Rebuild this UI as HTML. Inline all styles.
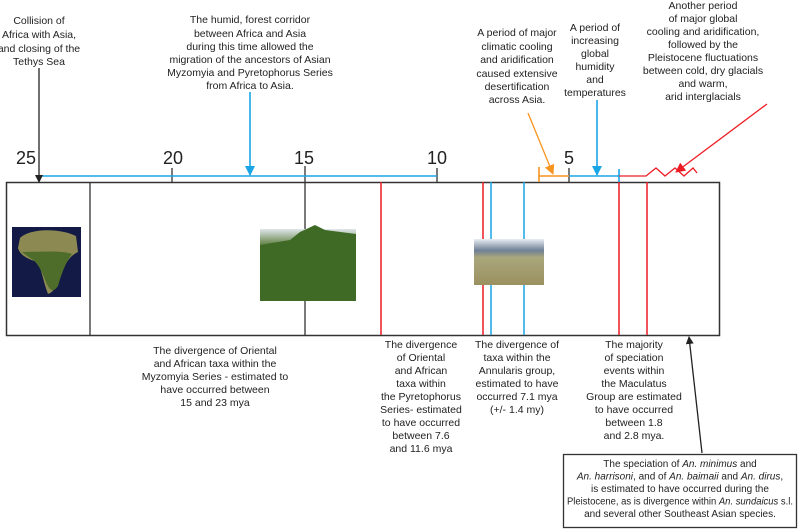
<!DOCTYPE html>
<html><head><meta charset="utf-8"><style>
body{margin:0;background:#fff}
svg{display:block;font-family:"Liberation Sans",sans-serif}
text{font-size:10.5px;fill:#222;text-anchor:middle}
.n{font-size:18px}
.b{font-size:10px}
</style></head><body>
<svg width="800" height="529" viewBox="0 0 800 529">
<defs>
<marker id="ak" markerWidth="8" markerHeight="8" refX="7" refY="4" orient="auto" markerUnits="userSpaceOnUse"><path d="M0,0 L8,4 L0,8 z" fill="#222"/></marker>
<marker id="ab" markerWidth="10" markerHeight="10" refX="9" refY="5" orient="auto" markerUnits="userSpaceOnUse"><path d="M0,0 L10,5 L0,10 z" fill="#1aa5e6"/></marker>
<marker id="ao" markerWidth="10" markerHeight="10" refX="9" refY="5" orient="auto" markerUnits="userSpaceOnUse"><path d="M0,0 L10,5 L0,10 z" fill="#f7941d"/></marker>
<marker id="ar" markerWidth="10" markerHeight="10" refX="9" refY="5" orient="auto" markerUnits="userSpaceOnUse"><path d="M0,0 L10,5 L0,10 z" fill="#ed1c24"/></marker>
<linearGradient id="gf" x1="0" y1="0" x2="0" y2="1"><stop offset="0" stop-color="#dfe6ea"/><stop offset="0.2" stop-color="#6d8a52"/><stop offset="0.5" stop-color="#3c6a22"/><stop offset="1" stop-color="#567d2a"/></linearGradient>
<linearGradient id="gg" x1="0" y1="0" x2="0" y2="1"><stop offset="0" stop-color="#e9eef3"/><stop offset="0.25" stop-color="#6f7f96"/><stop offset="0.4" stop-color="#a9a77c"/><stop offset="1" stop-color="#9b9060"/></linearGradient>
</defs>

<rect x="6.5" y="182.5" width="713" height="153" fill="none" stroke="#333" stroke-width="1.5"/>
<line x1="90" y1="182" x2="90" y2="336" stroke="#333" stroke-width="1.3"/>

<text class="n" x="26" y="164">25</text>
<text class="n" x="173" y="164">20</text>
<text class="n" x="304" y="164">15</text>
<text class="n" x="437" y="164">10</text>
<text class="n" x="569" y="164">5</text>
<g stroke="#333" stroke-width="1.3">
<line x1="172" y1="168" x2="172" y2="182"/>
<line x1="437" y1="168" x2="437" y2="182"/>
<line x1="569" y1="168" x2="569" y2="182"/>
<line x1="305" y1="166" x2="305" y2="229"/>
<line x1="305" y1="301" x2="305" y2="335"/>
</g>
<line x1="39" y1="176" x2="437" y2="176" stroke="#1aa5e6" stroke-width="1.6"/>
<line x1="539" y1="176" x2="569" y2="176" stroke="#f7941d" stroke-width="1.6"/>
<line x1="539" y1="167" x2="539" y2="182" stroke="#f7941d" stroke-width="1.6"/>
<line x1="569" y1="176" x2="619" y2="176" stroke="#1aa5e6" stroke-width="1.6"/>
<line x1="619" y1="169" x2="619" y2="182" stroke="#1aa5e6" stroke-width="1.6"/>
<polyline points="619,176 646,176 656,168 665,176 675,168 684,176 693,168 697,173" fill="none" stroke="#ed1c24" stroke-width="1.3"/>

<g stroke-width="1.5">
<line x1="381" y1="182" x2="381" y2="335" stroke="#ed1c24"/>
<line x1="483" y1="182" x2="483" y2="335" stroke="#ed1c24"/>
<line x1="491" y1="182" x2="491" y2="335" stroke="#1aa5e6"/>
<line x1="524" y1="182" x2="524" y2="335" stroke="#1aa5e6"/>
<line x1="619" y1="182" x2="619" y2="335" stroke="#ed1c24"/>
<line x1="647" y1="182" x2="647" y2="335" stroke="#ed1c24"/>
</g>

<rect x="12" y="227" width="69" height="70" fill="#121a45"/>
<path d="M20,238 C30,228 60,228 76,236 L78,252 C70,256 66,262 62,272 C58,282 55,292 48,294 C44,284 42,272 38,262 C30,260 20,256 18,248 Z" fill="#8c8a52"/>
<path d="M22,252 C40,252 62,250 72,254 C66,262 62,272 58,286 C54,292 50,292 46,282 C42,272 38,262 30,258 Z" fill="#4f6d2a"/>
<rect x="260" y="229" width="96" height="72" fill="url(#gf)"/>
<path d="M260,245 L290,240 L300,232 L315,225 L325,230 L356,234 L356,301 L260,301 Z" fill="#3f6a26"/>
<rect x="474" y="239" width="70" height="46" fill="url(#gg)"/>

<line x1="39" y1="68" x2="39" y2="182" stroke="#222" stroke-width="1.3" marker-end="url(#ak)"/>
<line x1="250" y1="92" x2="250" y2="175" stroke="#1aa5e6" stroke-width="1.6" marker-end="url(#ab)"/>
<line x1="528" y1="113" x2="553" y2="174" stroke="#f7941d" stroke-width="1.3" marker-end="url(#ao)"/>
<line x1="597" y1="100" x2="597" y2="175" stroke="#1aa5e6" stroke-width="1.6" marker-end="url(#ab)"/>
<line x1="767" y1="104" x2="676" y2="172" stroke="#ed1c24" stroke-width="1.3" marker-end="url(#ar)"/>
<line x1="702" y1="453" x2="689" y2="337" stroke="#222" stroke-width="1.3" marker-end="url(#ak)"/>

<text x="39" y="24">Collision of</text>
<text x="39" y="38">Africa with Asia,</text>
<text x="39" y="52">and closing of the</text>
<text x="39" y="65">Tethys Sea</text>

<text x="250" y="23">The humid, forest corridor</text>
<text x="250" y="37">between Africa and Asia</text>
<text x="250" y="50">during this time allowed the</text>
<text x="250" y="63">migration of the ancestors of Asian</text>
<text x="250" y="76">Myzomyia and Pyretophorus Series</text>
<text x="250" y="89">from Africa to Asia.</text>

<text x="517" y="36">A period of major</text>
<text x="517" y="50">climatic cooling</text>
<text x="517" y="63">and aridification</text>
<text x="517" y="77">caused extensive</text>
<text x="517" y="90">desertification</text>
<text x="517" y="103">across Asia.</text>

<text x="595" y="31">A period of</text>
<text x="595" y="44">increasing</text>
<text x="595" y="57">global</text>
<text x="595" y="70">humidity</text>
<text x="595" y="83">and</text>
<text x="595" y="96">temperatures</text>

<text x="703" y="9">Another period</text>
<text x="703" y="22">of major global</text>
<text x="703" y="35">cooling and aridification,</text>
<text x="703" y="48">followed by the</text>
<text x="703" y="61">Pleistocene fluctuations</text>
<text x="703" y="74">between cold, dry glacials</text>
<text x="703" y="87">and warm,</text>
<text x="703" y="100">arid interglacials</text>

<text x="215" y="354">The divergence of Oriental</text>
<text x="215" y="367">and African taxa within the</text>
<text x="215" y="380">Myzomyia Series - estimated to</text>
<text x="215" y="393">have occurred between</text>
<text x="215" y="406">15 and 23 mya</text>

<text x="421" y="348">The divergence</text>
<text x="421" y="361">of Oriental</text>
<text x="421" y="374">and African</text>
<text x="421" y="387">taxa within</text>
<text x="421" y="400">the Pyretophorus</text>
<text x="421" y="413">Series- estimated</text>
<text x="421" y="426">to have occurred</text>
<text x="421" y="439">between 7.6</text>
<text x="421" y="452">and 11.6 mya</text>

<text x="517" y="348">The divergence of</text>
<text x="517" y="361">taxa within the</text>
<text x="517" y="374">Annularis group,</text>
<text x="517" y="387">estimated to have</text>
<text x="517" y="400">occurred 7.1 mya</text>
<text x="517" y="413">(+/- 1.4 my)</text>

<text x="634" y="348">The majority</text>
<text x="634" y="361">of speciation</text>
<text x="634" y="374">events within</text>
<text x="634" y="387">the Maculatus</text>
<text x="634" y="400">Group are estimated</text>
<text x="634" y="413">to have occurred</text>
<text x="634" y="426">between 1.8</text>
<text x="634" y="439">and 2.8 mya.</text>

<rect x="563.5" y="454.5" width="233" height="73" fill="#fff" stroke="#333" stroke-width="1.3"/>
<text class="b" x="680" y="467">The speciation of <tspan font-style="italic">An. minimus</tspan> and</text>
<text class="b" x="680" y="479.5"><tspan font-style="italic">An. harrisoni</tspan>, and of <tspan font-style="italic">An. baimaii</tspan> and <tspan font-style="italic">An. dirus</tspan>,</text>
<text class="b" x="680" y="492">is estimated to have occurred during the</text>
<text class="b" x="680" y="504.5" textLength="226" lengthAdjust="spacingAndGlyphs">Pleistocene, as is divergence within <tspan font-style="italic">An. sundaicus</tspan> s.l.</text>
<text class="b" x="680" y="517">and several other Southeast Asian species.</text>
</svg>
</body></html>
